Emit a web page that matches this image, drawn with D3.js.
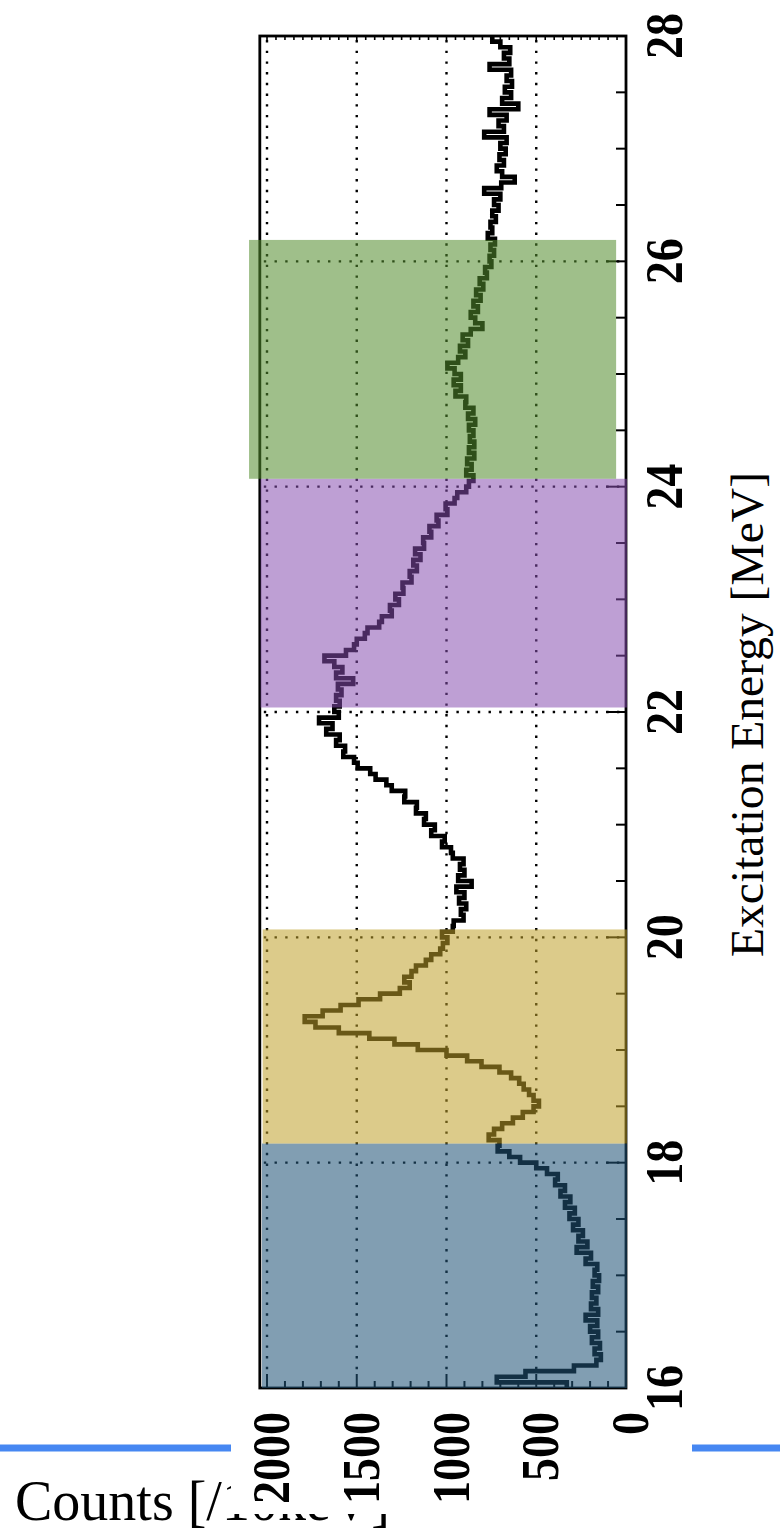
<!DOCTYPE html>
<html>
<head>
<meta charset="utf-8">
<script src="https://cdn.jsdelivr.net/npm/d3@7"></script>
<style>
  html, body { margin: 0; padding: 0; background: #ffffff; }
  svg { display: block; }
</style>
</head>
<body>
<svg id="chart" width="780" height="1529"></svg>
<script>
// ---- data: excitation-energy spectrum, 0.05 MeV bins starting at 16 MeV ----
const binStart = 16.0;
const binWidth = 0.05;
const counts = [
  // 16 - 17 MeV
  330, 720, 560, 290, 165, 140, 175, 145, 190, 155, 200, 160, 225, 155, 195, 165, 190, 155, 185, 150,
  // 17 - 18 MeV
  175, 160, 225, 195, 275, 215, 265, 240, 295, 265, 315, 285, 340, 310, 365, 340, 395, 380, 440, 500,
  // 18 - 19 MeV
  590, 650, 715, 705, 765, 735, 690, 630, 575, 515, 485, 515, 540, 570, 595, 640, 705, 805, 885, 1000,
  // 19 - 20 MeV
  1160, 1290, 1430, 1600, 1730, 1790, 1690, 1590, 1490, 1370, 1260, 1205, 1235, 1195, 1170, 1115, 1085, 1035, 1020, 995,
  // 20 - 21 MeV
  1025, 965, 960, 905, 920, 890, 930, 900, 945, 860, 935, 900, 925, 905, 965, 975, 1025, 1010, 1085, 1065,
  // 21 - 22 MeV
  1125, 1115, 1170, 1165, 1235, 1230, 1305, 1335, 1395, 1425, 1495, 1515, 1575, 1565, 1615, 1595, 1670, 1635, 1710, 1600,
  // 22 - 23 MeV
  1625, 1595, 1615, 1585, 1605, 1520, 1615, 1580, 1625, 1680, 1560, 1515, 1500, 1455, 1440, 1375, 1360, 1305, 1315, 1265,
  // 23 - 24 MeV
  1285, 1240, 1245, 1195, 1205, 1165, 1185, 1145, 1175, 1125, 1130, 1085, 1095, 1045, 1055, 995, 1005, 955, 940, 890,
  // 24 - 25 MeV
  875, 850, 890, 860, 885, 845, 875, 845, 870, 850, 875, 840, 880, 850, 895, 890, 950, 920, 960, 920,
  // 25 - 26 MeV
  955, 995, 935, 895, 925, 880, 910, 865, 800, 840, 865, 825, 850, 810, 835, 795, 815, 775, 785, 750,
  // 26 - 27 MeV
  760, 735, 755, 730, 770, 745, 755, 725, 745, 710, 735, 700, 790, 695, 620, 690, 720, 680, 705, 670,
  // 27 - 28 MeV
  700, 665, 790, 680, 710, 665, 760, 600, 690, 640, 675, 635, 665, 640, 760, 650, 680, 645, 700, 745
];
const energyMajorTicks = [16, 18, 20, 22, 24, 26, 28];
const countMajorTicks = [0, 500, 1000, 1500, 2000];
const countGridValues = [500, 1000, 1500, 2000];
const energyGridValues = [18, 20, 22, 24, 26];

// highlighted energy windows (MeV)
const regionLow  = [16.0, 18.17, 22.04, 24.07];
const regionHigh = [18.17, 20.07, 24.07, 26.19];

const energyTitle = "Excitation Energy [MeV]";
const countsTitle = "Counts [/10keV]";

// ---- styling ----
const regionFill    = ["#225577", "#bfa129", "#874eaf", "#548c2e"];
const regionOpacity = [0.57, 0.55, 0.54, 0.56];
const regionCountHi = [2028, 2024, 2036, 2100];
const regionCountLo = [-5, -5, -5, 55];
const serif = "'Liberation Serif', 'Times New Roman', Times, serif";

const svg = d3.select("#chart");

// scales: energy runs bottom→top, counts run right→left
const y = d3.scaleLinear().domain([16, 28]).range([1388, 36]);
const x = d3.scaleLinear().domain([0, 2000]).range([626, 267]);
const frameCountMax = 2040;

const fx0 = x(frameCountMax), fx1 = x(0), fy0 = y(28), fy1 = y(16);

// ---- page underlay ----
svg.append("rect")
  .attr("x", 0).attr("y", 1444.5).attr("width", 780).attr("height", 7)
  .attr("fill", "#4687f2");

svg.append("text")
  .attr("x", 15).attr("y", 1520)
  .attr("font-family", serif).attr("font-size", 56)
  .attr("fill", "#000")
  .text(countsTitle);

// chart panel background
svg.append("rect")
  .attr("x", 231).attr("y", 0).attr("width", 461).attr("height", 1514)
  .attr("fill", "#ffffff");

const defs = svg.append("defs");
defs.append("clipPath").attr("id", "plotClip")
  .append("rect")
  .attr("x", fx0).attr("y", fy0)
  .attr("width", fx1 - fx0).attr("height", fy1 - fy0);

const plot = svg.append("g");

// dotted grid
const dots = "2.4,8.3";
plot.append("g").selectAll("line").data(countGridValues).join("line")
  .attr("x1", d => x(d)).attr("x2", d => x(d))
  .attr("y1", fy0 + 4).attr("y2", fy1 - 12)
  .attr("stroke", "#000").attr("stroke-width", 2.4)
  .attr("stroke-dasharray", dots);

plot.append("g").selectAll("line").data(energyGridValues).join("line")
  .attr("x1", fx0 + 4).attr("x2", fx1 - 2)
  .attr("y1", d => y(d)).attr("y2", d => y(d))
  .attr("stroke", "#000").attr("stroke-width", 2.4)
  .attr("stroke-dasharray", dots);

// spectrum as a step histogram
const pts = [];
counts.forEach((c, i) => {
  const e0 = binStart + i * binWidth;
  pts.push([c, e0], [c, e0 + binWidth]);
});
const line = d3.line().x(d => x(d[0])).y(d => y(d[1]));
plot.append("path")
  .attr("clip-path", "url(#plotClip)")
  .attr("d", line(pts))
  .attr("fill", "none")
  .attr("stroke", "#000")
  .attr("stroke-width", 4.6)
  .attr("stroke-linejoin", "miter");

// ticks on the energy (right) edge, pointing inward
plot.append("g").selectAll("line").data(y.ticks(24)).join("line")
  .attr("x1", fx1).attr("x2", d => fx1 - (d % 2 === 0 ? 20 : 10))
  .attr("y1", d => y(d)).attr("y2", d => y(d))
  .attr("stroke", "#000").attr("stroke-width", 2);

// ticks on the counts (bottom) edge
plot.append("g").selectAll("line").data(x.ticks(20)).join("line")
  .attr("x1", d => x(d)).attr("x2", d => x(d))
  .attr("y1", fy1).attr("y2", d => fy1 - (d % 500 === 0 ? 14 : 7))
  .attr("stroke", "#000").attr("stroke-width", 2);

// fine ticks on the top edge
plot.append("g").selectAll("line").data(x.ticks(40)).join("line")
  .attr("x1", d => x(d)).attr("x2", d => x(d))
  .attr("y1", fy0).attr("y2", fy0 + 4)
  .attr("stroke", "#000").attr("stroke-width", 1.6);

// frame
plot.append("rect")
  .attr("x", fx0).attr("y", fy0)
  .attr("width", fx1 - fx0).attr("height", fy1 - fy0)
  .attr("fill", "none").attr("stroke", "#000").attr("stroke-width", 2.8);

// tick labels (rotated, bold serif)
const digitLen = 23;
plot.append("g").selectAll("text").data(energyMajorTicks).join("text")
  .attr("transform", d => `translate(682,${y(d)}) rotate(-90)`)
  .attr("text-anchor", "middle")
  .attr("font-family", serif).attr("font-weight", "bold").attr("font-size", 52)
  .attr("textLength", d => String(d).length * digitLen)
  .attr("lengthAdjust", "spacingAndGlyphs")
  .text(d => d);

plot.append("g").selectAll("text").data(countMajorTicks).join("text")
  .attr("transform", d => `translate(${x(d) + 22},1412) rotate(-90)`)
  .attr("text-anchor", "end")
  .attr("font-family", serif).attr("font-weight", "bold").attr("font-size", 52)
  .attr("textLength", d => String(d).length * digitLen)
  .attr("lengthAdjust", "spacingAndGlyphs")
  .text(d => d);

// highlighted energy windows laid over the plot
svg.append("g").selectAll("rect").data(regionLow).join("rect")
  .attr("x", (d, i) => x(regionCountHi[i]))
  .attr("width", (d, i) => x(regionCountLo[i]) - x(regionCountHi[i]))
  .attr("y", (d, i) => y(regionHigh[i]))
  .attr("height", (d, i) => y(regionLow[i]) - y(regionHigh[i]))
  .attr("fill", (d, i) => regionFill[i])
  .attr("fill-opacity", (d, i) => regionOpacity[i]);

// energy axis title
svg.append("text")
  .attr("transform", `translate(763,${(957 + 472) / 2}) rotate(-90)`)
  .attr("text-anchor", "middle")
  .attr("font-family", serif).attr("font-size", 46)
  .attr("textLength", 485).attr("lengthAdjust", "spacingAndGlyphs")
  .attr("fill", "#000")
  .text(energyTitle);
</script>
</body>
</html>
